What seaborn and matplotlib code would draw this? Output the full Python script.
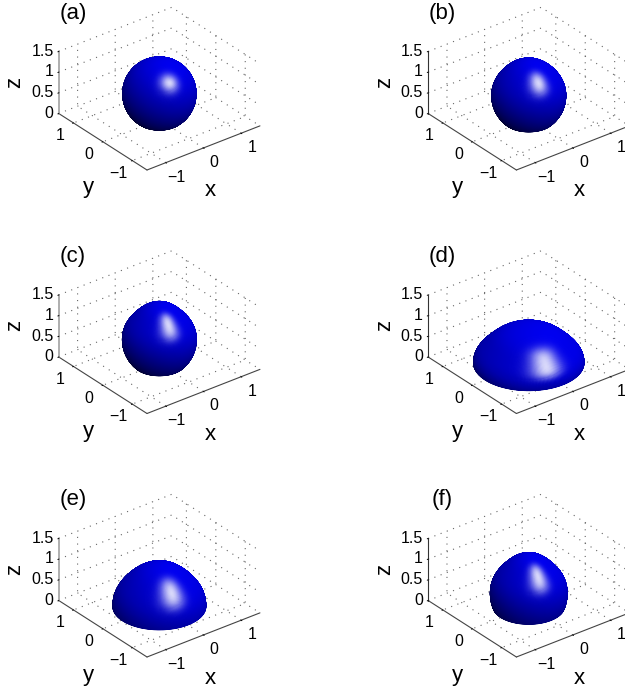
import matplotlib
matplotlib.use("Agg")
import matplotlib.pyplot as plt
import numpy as np
import seaborn as sns
from mpl_toolkits.mplot3d import proj3d

# values, one entry per panel
panel_names = ["(a)", "(b)", "(c)", "(d)", "(e)", "(f)"]
semi_x = [0.77, 0.78, 0.78, 1.18, 0.98, 0.81]
semi_y = [0.77, 0.78, 0.78, 1.18, 0.98, 0.81]
semi_z = [0.77, 0.80, 0.82, 0.76, 0.95, 0.89]
centre_z = [0.63, 0.60, 0.60, 0.08, 0.05, 0.35]
flatten = [0.0, 0.04, 0.07, 0.09, 0.06, 0.07]
shoulder = [0.77, 0.77, 0.77, 0.58, 0.75, 0.80]
z_axis_color = ["#999999", "#333333", "#999999", "#333333", "#999999", "#333333"]

x_ticks = [-1, 0, 1]
y_ticks = [-1, 0, 1]
z_ticks = [0, 0.5, 1, 1.5]
z_ticklabels = ["0", "0.5", "1", "1.5"]

WIDTH, HEIGHT = 625, 692
AZIM, ELEV = -128, 30
COL_SHIFT = [0, 369.4]
ROW_SHIFT = [0, 243.5, 487]

sns.set_theme(style="white")
plt.rcParams["font.family"] = ["Liberation Sans", "DejaVu Sans"]
plt.rcParams["grid.color"] = "#666666"
plt.rcParams["grid.linewidth"] = 0.8
plt.rcParams["grid.linestyle"] = (0, (1, 5))

blue_ramp = sns.blend_palette(["#000028", "#0000f5"], as_cmap=True)


def camera_vectors():
    az, el = np.radians(AZIM), np.radians(ELEV)
    view = np.array([np.cos(el) * np.cos(az), np.cos(el) * np.sin(az), np.sin(el)])
    right = np.array([-np.sin(az), np.cos(az), 0.0])
    up = np.cross(view, right)
    return view, right, up


def squeeze_at(i, t):
    # flattens the flank around the shoulder latitude
    return 1 - flatten[i] * np.exp(-(((t - shoulder[i]) / 0.5) ** 2))


def drop_surface(i):
    # ellipsoid with a flatter flank, cut off at the floor
    t_all = np.linspace(-np.pi / 2, np.pi / 2, 721)
    z_all = centre_z[i] + semi_z[i] * np.sin(t_all) * squeeze_at(i, t_all)
    t0 = t_all[np.argmax(z_all >= 0)]
    t, phi = np.meshgrid(np.linspace(t0, np.pi / 2, 150), np.linspace(0, 2 * np.pi, 241))
    squeeze = squeeze_at(i, t)
    x = semi_x[i] * np.cos(t) * np.cos(phi) * squeeze
    y = semi_y[i] * np.cos(t) * np.sin(phi) * squeeze
    z = centre_z[i] + semi_z[i] * np.sin(t) * squeeze
    return x, y, z


def shade(x, y, z):
    view, right, up = camera_vectors()
    spot = 0.48 * right + 0.50 * up + 0.72 * view
    spot = spot / np.linalg.norm(spot)
    half = (spot + view) / np.linalg.norm(spot + view)

    du = np.stack([np.gradient(c, axis=0) for c in (x, y, z)], axis=-1)
    dv = np.stack([np.gradient(c, axis=1) for c in (x, y, z)], axis=-1)
    normal = np.cross(du, dv)
    normal = normal / (np.linalg.norm(normal, axis=-1, keepdims=True) + 1e-12)
    normal = normal * np.sign(np.sum(normal * np.stack([x, y, z - z.mean()], -1), axis=-1, keepdims=True) + 1e-12)

    # dark along the bottom, a little darker on the left than on the right
    level = 0.45 + 0.38 * (normal @ up) + 0.20 * (normal @ right) + 0.30 * (normal @ view)
    spec = np.clip(normal @ half, 0, 1) ** 32
    colors = blue_ramp(np.clip(level, 0, 1))
    colors[..., :3] = colors[..., :3] + (1 - colors[..., :3]) * np.clip(0.85 * spec, 0, 1)[..., None]
    # the far side only bleeds through the seams, so leave it out
    colors[..., 3] = (normal @ view > -0.08).astype(float)
    return colors


def to_pixels(ax, point):
    px, py, _ = proj3d.proj_transform(*point, ax.get_proj())
    return ax.transData.transform((px, py))


def place_panel(ax, col, row):
    # fit the box so its front edge falls where it is in the reference
    size = 300.0
    ax.set_position([0, 0, size / WIDTH, size / HEIGHT])
    ax.apply_aspect()
    front = to_pixels(ax, (-1.5, -1.5, 0))
    side = to_pixels(ax, (1.5, -1.5, 0))
    size = size * np.hypot(113, 44) / np.hypot(*(side - front))
    ax.set_position([0, 0, size / WIDTH, size / HEIGHT])
    ax.apply_aspect()
    front = to_pixels(ax, (-1.5, -1.5, 0))
    left = 147 + COL_SHIFT[col] - front[0]
    bottom = HEIGHT - (170 + ROW_SHIFT[row]) - front[1]
    ax.set_position([left / WIDTH, bottom / HEIGHT, size / WIDTH, size / HEIGHT])


def panel_text(col, row, px, py, text, **kwargs):
    # px, py as measured in panel (a) of the reference
    fig.text((px + COL_SHIFT[col]) / WIDTH, 1 - (py + ROW_SHIFT[row]) / HEIGHT, text,
             fontsize=16, ha="center", va="center", color="black", **kwargs)


fig = plt.figure(figsize=(WIDTH / 100, HEIGHT / 100), dpi=100)

for i, name in enumerate(panel_names):
    row, col = i // 2, i % 2
    ax = fig.add_subplot(projection="3d", proj_type="ortho")
    ax.set_box_aspect((3, 3, 1.5))
    ax.view_init(elev=ELEV, azim=AZIM)
    ax.patch.set_alpha(0)
    ax.set_xlim(-1.5, 1.5, view_margin=0)
    ax.set_ylim(-1.5, 1.5, view_margin=0)
    ax.set_zlim(0, 1.5, view_margin=0)
    ax.set_xticks(x_ticks)
    ax.set_yticks(y_ticks)
    ax.set_zticks(z_ticks, z_ticklabels)
    ax.tick_params(labelsize=11.5, colors="black", pad=1.5)
    ax.tick_params(axis="z", pad=-6)

    for axis in (ax.xaxis, ax.yaxis, ax.zaxis):
        axis.set_pane_color((1, 1, 1, 0))
        axis.pane.set_edgecolor("#666666")
        axis.pane.set_linestyle((0, (1, 5)))
        axis.pane.set_linewidth(0.8)
        axis.line.set_color("#444444")
        axis.line.set_linewidth(0.8)
        axis._axinfo["tick"]["inward_factor"] = 0.1
        axis._axinfo["tick"]["outward_factor"] = 0.0
        axis._axinfo["tick"]["linewidth"] = {True: 0.7, False: 0.5}
        axis._axinfo["tick"]["color"] = "#444444"
        for tick_text in axis.get_ticklabels():
            tick_text.set_va("center")
    for tick_text in ax.zaxis.get_ticklabels():
        tick_text.set_ha("right")
    ax.zaxis.line.set_color(z_axis_color[i])
    ax.zaxis.line.set_linewidth(1.1 if col == 0 else 0.8)

    x, y, z = drop_surface(i)
    ax.plot_surface(x, y, z, facecolors=shade(x, y, z), rstride=1, cstride=1,
                    shade=False, linewidth=0.5, antialiased=True)

    place_panel(ax, col, row)
    panel_text(col, row, 73, 13, name)
    panel_text(col, row, 210, 191, "x")
    panel_text(col, row, 88, 188, "y")
    panel_text(col, row, 15, 82, "z", rotation=90)

fig.savefig("out.png", dpi=100, facecolor="white")
